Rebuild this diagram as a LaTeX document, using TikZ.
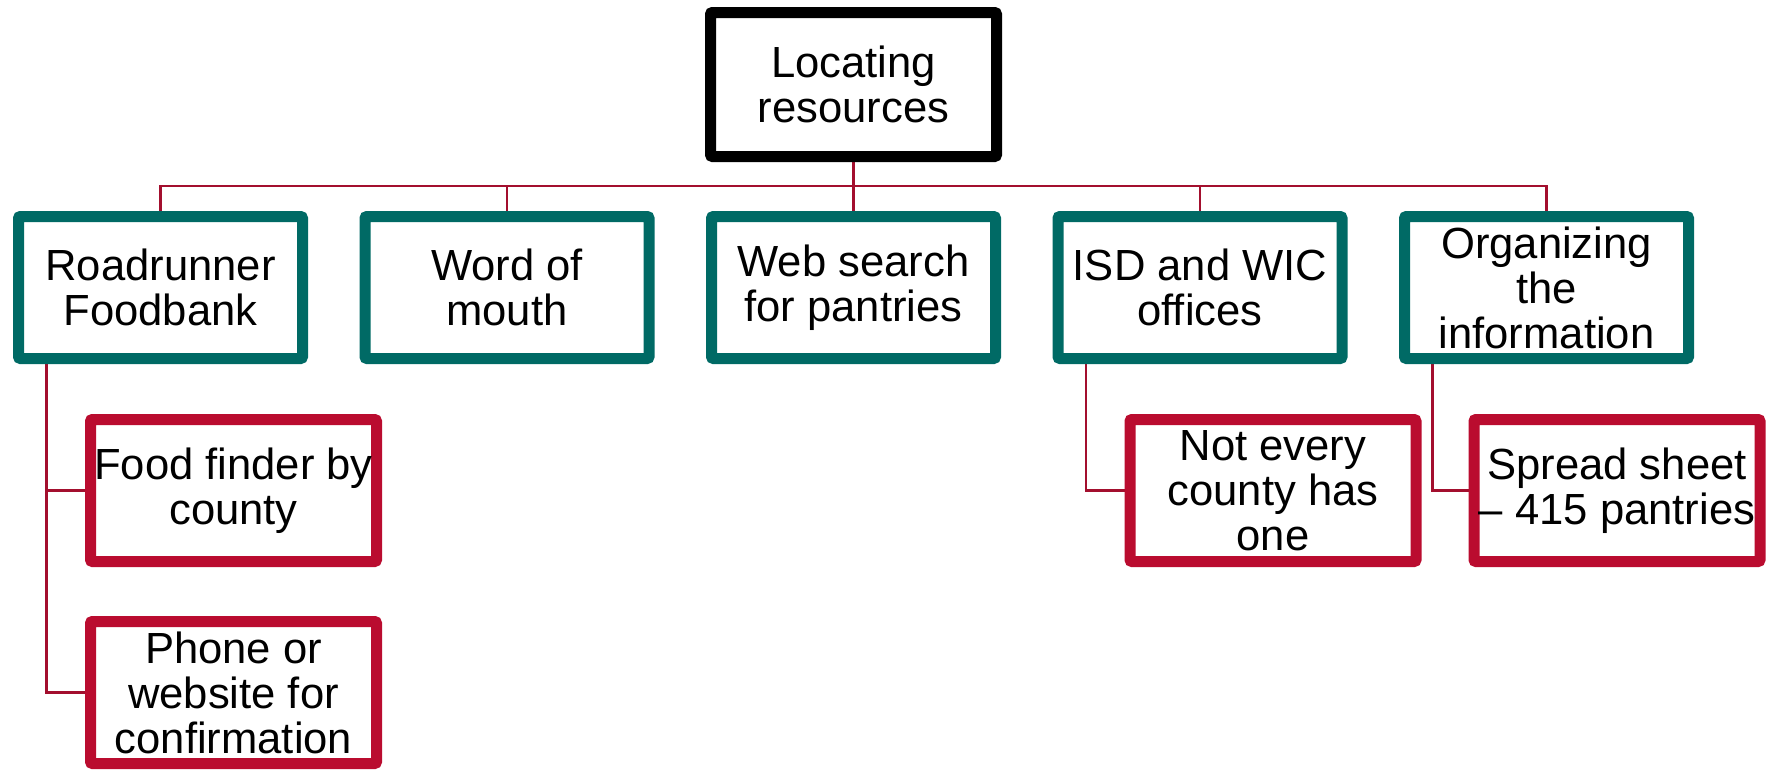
\documentclass[tikz,border=0pt]{standalone}
\usepackage{fontspec}
\setmainfont{Liberation Sans}
\usetikzlibrary{backgrounds}
\definecolor{tealbox}{HTML}{006A65}
\definecolor{redbox}{HTML}{BA0C2F}
\definecolor{conncol}{HTML}{A30F2E}
\begin{document}
\begin{tikzpicture}[x=1pt,y=-1pt,
  box/.style={draw, line width=11pt, rounded corners=2pt, fill=white, inner sep=0pt, outer sep=0pt,
    minimum width=285pt, minimum height=142pt, align=center,
    font=\fontsize{43.6}{45}\selectfont},
  topbox/.style={box, draw=black, minimum width=286pt, minimum height=144pt},
  lvlbox/.style={box, draw=tealbox, minimum width=284pt},
  subbox/.style={box, draw=redbox, minimum width=286pt},
  conn/.style={draw=conncol, line width=2.5pt}
]
\useasboundingbox (0,0) rectangle (1769,769);
\coordinate (bus) at (853.5,186);
\node[topbox] (top) at (853.5,84.5) {Locating\\resources};
\node[lvlbox] (l1) at (160.5,287.5) {Roadrunner\\Foodbank};
\node[lvlbox] (l2) at (507,287.5) {Word of\\mouth};
\node[lvlbox] (l3) at (853.5,287.5) {Web search\\for pantries};
\node[lvlbox] (l4) at (1200,287.5) {ISD and WIC\\offices};
\node[lvlbox] (l5) at (1546.5,287.5) {Organizing\\the\\information};
\node[subbox] (c1) at (233.5,490.5) {Food finder by\\county};
\node[subbox] (c2) at (233.5,692.5) {Phone or\\website for\\confirmation};
\node[subbox] (c3) at (1273,490.5) {Not every\\county has\\one};
\node[subbox] (c4) at (1617,490.5) {Spread sheet\\– 415 pantries};
\begin{scope}[on background layer]
\draw[conn] (top.south) -- (bus);
\draw[conn] (l1.north) |- (bus) -| (l5.north);
\draw[conn] (bus) -- (l3.north);
\draw[conn] (l2.north) -- (l2.north |- bus);
\draw[conn] (l4.north) -- (l4.north |- bus);
\draw[conn] ([xshift=28pt]l1.south west) |- (c1.west);
\draw[conn] ([xshift=28pt]l1.south west) |- (c2.west);
\draw[conn] ([xshift=28pt]l4.south west) |- (c3.west);
\draw[conn] ([xshift=28pt]l5.south west) |- (c4.west);
\end{scope}
\end{tikzpicture}
\end{document}
